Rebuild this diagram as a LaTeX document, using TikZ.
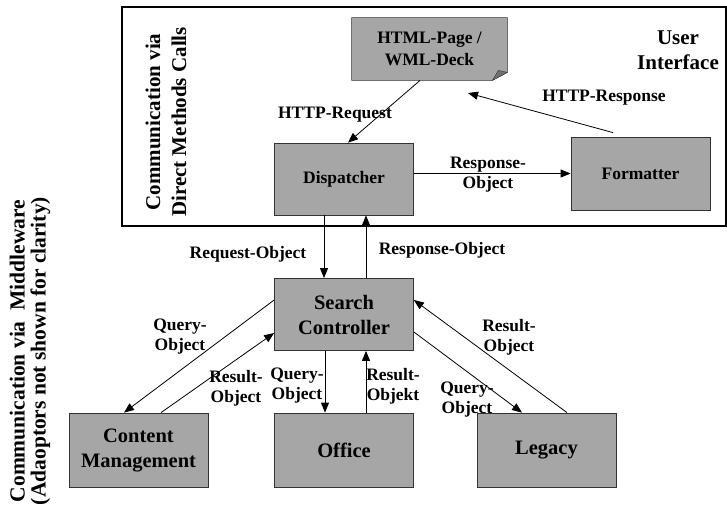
\documentclass[tikz,border=0pt]{standalone}
\usepackage{fontspec}
\setmainfont{Liberation Serif}
\usetikzlibrary{arrows.meta,backgrounds}
\definecolor{boxgray}{RGB}{166,166,166}
\definecolor{foldgray}{RGB}{112,112,112}

\begin{document}
\begin{tikzpicture}[
    x=1pt, y=-1pt, % pixel-like units
    line width=0.8pt, % line style
    > = {Triangle[length=10pt,width=8pt]}, % arrow head style
    box/.style={draw=black!80, fill=boxgray, minimum width=139pt, minimum height=72pt,
        align=center, font=\bfseries\fontsize{20.5}{25}\selectfont},
    smallbox/.style={box, font=\bfseries\fontsize{17.5}{21}\selectfont},
    lbl/.style={align=center, inner sep=0pt, font=\bfseries\fontsize{17.5}{20}\selectfont},
]
\useasboundingbox (0,0) rectangle (727,511);
% user interface frame
\draw[line width=1.1pt] (122,7) rectangle (726,226);

\node[smallbox] (disp) at (344,179) {Dispatcher};
\node[smallbox, minimum height=73pt] (fmt) at (640.5,173.5) {Formatter};
\node[box] (sc) at (344,314.5) {Search\\Controller};
\node[box, minimum height=74pt] (cm) at (138.5,450) {Content\\Management};
\node[box, minimum height=74pt] (office) at (344,450) {Office};
\node[box, minimum height=74pt] (legacy) at (546.5,450) {Legacy};
\node[align=center, minimum width=155pt, minimum height=62pt,
    font=\bfseries\fontsize{17.5}{22}\selectfont] (page) at (429.5,49) {HTML-Page /\\WML-Deck};
\begin{scope}[on background layer]
    \filldraw[fill=boxgray, draw=black!80] (page.north west) -- (page.north east)
        -- ([yshift=8pt]page.south east) -- ([xshift=-15pt]page.south east)
        -- (page.south west) -- cycle;
    \filldraw[fill=foldgray, draw=black!80] ([yshift=8pt]page.south east)
        -- ([xshift=-15pt]page.south east) -- ([xshift=-9pt,yshift=10pt]page.south east) -- cycle;
\end{scope}

\node[lbl, font=\bfseries\fontsize{21}{25}\selectfont] (ui) at (678,50) {User\\Interface};
\node[lbl, rotate=90, font=\bfseries\fontsize{21}{26}\selectfont] (direct) at (166,122)
    {Communication via\\Direct Methods Calls};
\node[lbl, rotate=90, font=\bfseries\fontsize{21.5}{21}\selectfont] (mw) at (30,351)
    {Communication via~~Middleware\\(Adaoptors not shown for clarity)};

\node[lbl] (httpreq) at (335,115) {HTTP-Request};
\node[lbl] (httpresp) at (604,98) {HTTP-Response};
\node[lbl] (respobj1) at (488,175) {Response-\\Object};
\node[lbl] (reqobj) at (248,254) {Request-Object};
\node[lbl] (respobj2) at (442,250) {Response-Object};
\node[lbl] (qcm) at (180,337) {Query-\\Object};
\node[lbl] (rcm) at (236,388) {Result-\\Object};
\node[lbl] (qoff) at (297,386) {Query-\\Object};
\node[lbl] (roff) at (393,386) {Result-\\Objekt};
\node[lbl] (qleg) at (467,400) {Query-\\Object};
\node[lbl] (rleg) at (509,337) {Result-\\Object};

\coordinate (resptip) at (468,93);
\draw[->] ([xshift=-9.5pt]page.south) -- ([xshift=4pt]disp.north);
\draw[->] ([xshift=-27.5pt,yshift=4pt]fmt.north) -- (resptip);
\draw[->] (disp.east |- fmt.west) -- (fmt.west);
\draw[->] ([xshift=-20pt]disp.south) -- ([xshift=-20pt]sc.north);
\draw[->] ([xshift=22pt]sc.north) -- ([xshift=22pt]disp.south);
\draw[->] ([yshift=14.5pt]sc.west) -- ([xshift=-14.5pt]cm.north);
\draw[->] ([xshift=22.5pt]cm.north) -- ([yshift=-18.5pt]sc.west);
\draw[->] ([xshift=-19pt]sc.south) -- ([xshift=-19pt]office.north);
\draw[->] ([xshift=22pt]office.north) -- ([xshift=22pt]sc.south);
\draw[->] ([yshift=-17.5pt]sc.east) -- ([xshift=-24.5pt]legacy.north);
\draw[->] ([xshift=20.5pt]legacy.north) -- ([yshift=14.5pt]sc.east);
\end{tikzpicture}
\end{document}
